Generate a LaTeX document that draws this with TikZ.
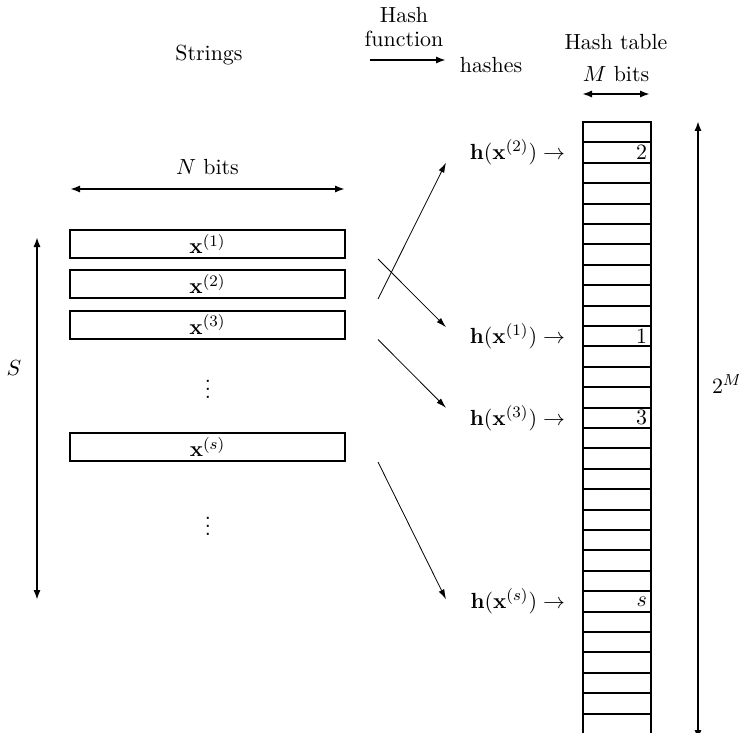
\documentclass[11pt,tikz,border=0pt]{standalone}
\usepackage{amsmath}
\usetikzlibrary{arrows.meta,calc,positioning}
\tikzset{
  every picture/.style={line width=1pt, >={Latex[length=5pt,width=3.6pt]}},
  % Zeichenketten
  strbox/.style={draw, minimum width=137.5pt, minimum height=14pt, inner sep=0pt},
  % Tabelle
  cell/.style={draw, minimum width=34pt, minimum height=10.2pt, inner sep=0pt, anchor=north west},
  cellnum/.style={anchor=east, inner sep=2pt},
  hlbl/.style={anchor=east, inner sep=0pt},
  maparrow/.style={line width=0.4pt, ->, >={Latex[length=5pt,width=3pt]}},
  dim/.style={<->},
}

\begin{document}
\begin{tikzpicture}[x=0.5pt, y=-0.5pt]
  \useasboundingbox (0,0) rectangle (739,733);
  \clip (0,0) rectangle (739,733);
  % ---------- Kopfzeile ----------
  \node (strings) at (209,55) {Strings};
  \node[align=center, inner sep=0pt] (hashfn) at (404,27) {Hash\\[-2pt]function};
  \coordinate (hf0) at (370,60); \coordinate (hf1) at (446,60);
  \draw[->] (hf0) -- (hf1);
  \node (hashes) at (491,65) {hashes};
  \node (htable) at (616,42) {Hash table};
  \node (mbits) at (616,74) {$M$ bits};
  \coordinate (m0) at (582,94); \coordinate (m1) at (650,94);
  \draw[dim] (m0) -- (m1);
  % ---------- Zeichenketten ----------
  \node[strbox] (b1) at (207.5,244) {$\mathbf{x}^{(1)}$};
  \node[strbox] (b2) at (207.5,284) {$\mathbf{x}^{(2)}$};
  \node[strbox] (b3) at (207.5,324.5) {$\mathbf{x}^{(3)}$};
  \node (dots1) at (208,383) {$\vdots$};
  \node[strbox] (bs) at (207.5,447) {$\mathbf{x}^{(s)}$};
  \node (dots2) at (208,520) {$\vdots$};
  \coordinate (n0) at (70,189); \coordinate (n1) at (345,189);
  \draw[dim] (n0) -- (n1) node[midway, above=3pt] (nbits) {$N$ bits};
  \coordinate (s0) at (37,237); \coordinate (s1) at (37,600);
  \draw[dim] (s0) -- (s1);
  \node (slbl) at (14,368) {$S$};
  % ---------- Hashtabelle ----------
  \foreach \i in {0,...,29}
    \node[cell] (c\i) at (582,{121+\i*20.4}) {};
  \foreach \i/\t in {1/2, 10/1, 14/3, 23/s}
    \node[cellnum] at (c\i.east) {$\t$};
  \coordinate (t0) at (698,121); \coordinate (t1) at (698,740);
  \draw[dim] (t0) -- (t1);
  \node (tlbl) at (727,384) {$2^M$};
  % ---------- Hashwerte ----------
  \node[hlbl] (h2) at ($(c1.west)+(-16,0)$) {$\mathbf{h}(\mathbf{x}^{(2)})\rightarrow$};
  \node[hlbl] (h1) at ($(c10.west)+(-16,0)$) {$\mathbf{h}(\mathbf{x}^{(1)})\rightarrow$};
  \node[hlbl] (h3) at ($(c14.west)+(-16,0)$) {$\mathbf{h}(\mathbf{x}^{(3)})\rightarrow$};
  \node[hlbl] (hs) at ($(c23.west)+(-16,0)$) {$\mathbf{h}(\mathbf{x}^{(s)})\rightarrow$};
  \coordinate (a2) at ($(c1.west)+(-136,10)$);
  \coordinate (a1) at ($(c10.west)+(-136,-9)$);
  \coordinate (a3) at ($(c14.west)+(-136,-10)$);
  \coordinate (as) at ($(c23.west)+(-136,-2)$);
  \draw[maparrow] ($(b2.south east)+(32,0)$) -- (a2);
  \draw[maparrow] ($(b1.south east)+(32,0)$) -- (a1);
  \draw[maparrow] ($(b3.south east)+(32,0)$) -- (a3);
  \draw[maparrow] ($(bs.south east)+(32,0)$) -- (as);
\end{tikzpicture}
\end{document}
